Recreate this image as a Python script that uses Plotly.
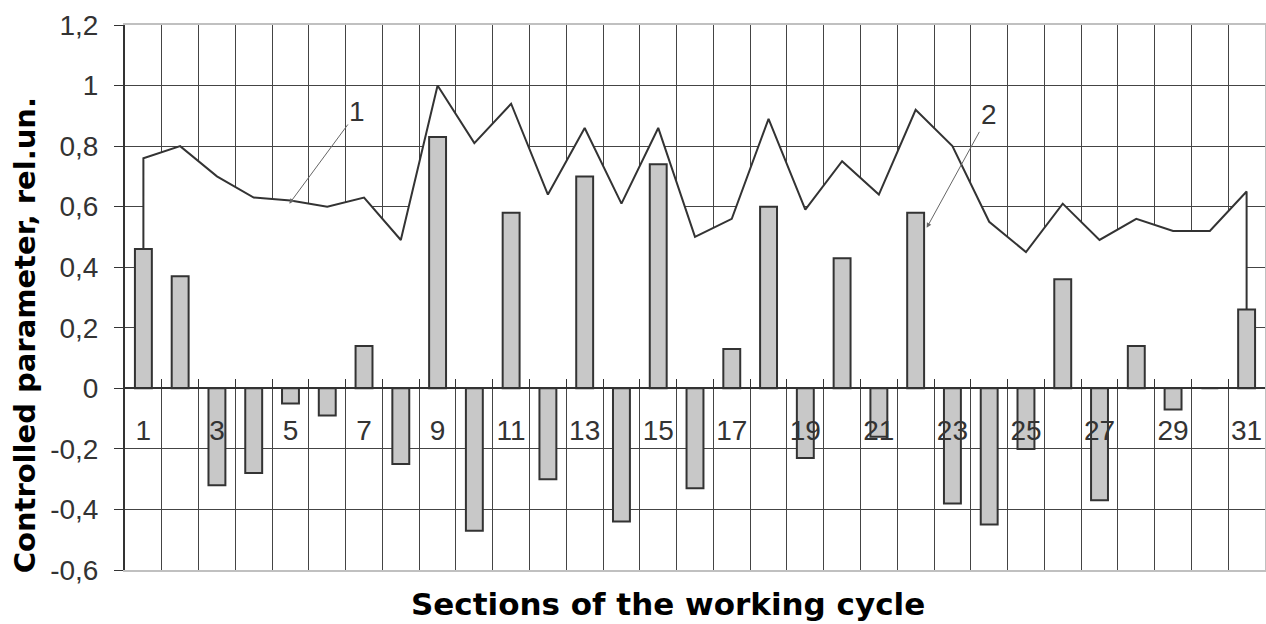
import plotly.graph_objects as go

# ---- data ----
sections = [str(i) for i in range(1, 32)]
section_labels = [s if int(s) % 2 == 1 else "" for s in sections]

# curve 1 (white-filled area outline)
curve_values = [0.76, 0.80, 0.70, 0.63, 0.62, 0.60, 0.63, 0.49, 1.00, 0.81,
                0.94, 0.64, 0.86, 0.61, 0.86, 0.50, 0.56, 0.89, 0.59, 0.75,
                0.64, 0.92, 0.80, 0.55, 0.45, 0.61, 0.49, 0.56, 0.52, 0.52,
                0.65]

# series 2 (bars)
bar_values = [0.46, 0.37, -0.32, -0.28, -0.05, -0.09, 0.14, -0.25, 0.83, -0.47,
              0.58, -0.30, 0.70, -0.44, 0.74, -0.33, 0.13, 0.60, -0.23, 0.43,
              -0.16, 0.58, -0.38, -0.45, -0.20, 0.36, -0.37, 0.14, -0.07, 0.0,
              0.26]

y_tick_vals = [-0.6, -0.4, -0.2, 0, 0.2, 0.4, 0.6, 0.8, 1.0, 1.2]
y_tick_text = ["-0,6", "-0,4", "-0,2", "0", "0,2", "0,4", "0,6", "0,8", "1", "1,2"]

x_title = "Sections of the working cycle"
y_title = "Controlled parameter, rel.un."

# ---- styling ----
DARK = "#333333"
GRID = "#444444"
BORDER = "#c0c0c0"
BAR_FILL = "#c8c8c8"
Y_RANGE = [-0.6, 1.2]
X_RANGE = [-0.5, len(sections) - 0.5]

area_x = [sections[0]] + sections + [sections[-1]]
area_y = [bar_values[0]] + curve_values + [bar_values[-1]]

fig = go.Figure()

fig.add_trace(go.Scatter(
    x=area_x, y=area_y, mode="lines",
    line=dict(color=DARK, width=2),
    fill="tozeroy", fillcolor="white",
    xaxis="x", yaxis="y", showlegend=False, hoverinfo="skip",
))

fig.add_trace(go.Bar(
    x=sections, y=bar_values, width=0.46,
    marker=dict(color=BAR_FILL, line=dict(color=DARK, width=2)),
    xaxis="x2", yaxis="y2", showlegend=False,
))

zero_pos = (0 - Y_RANGE[0]) / (Y_RANGE[1] - Y_RANGE[0])

fig.update_layout(
    width=1266, height=624,
    margin=dict(l=125, r=1, t=25, b=54, autoexpand=False),
    paper_bgcolor="white", plot_bgcolor="white",
    font=dict(family="Liberation Sans, Arial, sans-serif", color=DARK),
    xaxis=dict(
        type="category", categoryorder="array", categoryarray=sections,
        range=X_RANGE, tickson="boundaries", automargin=False,
        showgrid=True, gridcolor=GRID, gridwidth=1,
        showticklabels=False, ticks="",
        showline=True, linecolor=BORDER, linewidth=2, mirror=True,
        zeroline=False,
    ),
    yaxis=dict(
        range=Y_RANGE, tickvals=y_tick_vals, ticktext=y_tick_text,
        ticks="outside", ticklen=9, tickcolor=DARK, tickwidth=1,
        tickfont=dict(size=28, color=DARK), ticklabelstandoff=10,
        showgrid=True, gridcolor=GRID, gridwidth=1, automargin=False,
        showline=True, linecolor=DARK, linewidth=2,
        zeroline=False,
    ),
    xaxis2=dict(
        type="category", categoryorder="array", categoryarray=sections,
        range=X_RANGE, overlaying="x", anchor="free", position=zero_pos,
        tickson="boundaries", tickvals=sections, ticktext=section_labels,
        ticks="inside", ticklen=8, tickcolor=DARK, tickwidth=1,
        tickangle=0, automargin=False,
        tickfont=dict(size=28, color=DARK), ticklabelstandoff=17,
        showgrid=False, zeroline=False,
        showline=True, linecolor=DARK, linewidth=2,
    ),
    yaxis2=dict(
        range=Y_RANGE, overlaying="y", side="right", automargin=False,
        showgrid=False, zeroline=False, showticklabels=False, ticks="",
        showline=True, linecolor=BORDER, linewidth=2,
    ),
    annotations=[
        dict(text="<b>" + y_title + "</b>", xref="paper", yref="paper",
             x=-0.088, y=0.43, xanchor="center", yanchor="middle",
             textangle=-90, showarrow=False,
             font=dict(family="DejaVu Sans", size=29, color="black")),
        dict(text="<b>" + x_title + "</b>", xref="paper", yref="paper",
             x=0.476, y=-0.0624, xanchor="center", yanchor="middle",
             showarrow=False,
             font=dict(family="DejaVu Sans", size=31, color="black")),
        dict(text="1", xref="x", yref="y", x=3.97, y=0.61,
             ax=68, ay=-92, showarrow=True, arrowhead=2, arrowsize=1,
             arrowwidth=1, arrowcolor="#666666",
             font=dict(size=28, color=DARK)),
        dict(text="2", xref="x", yref="y", x=21.3, y=0.53,
             ax=62, ay=-113, showarrow=True, arrowhead=2, arrowsize=1,
             arrowwidth=1, arrowcolor="#666666",
             font=dict(size=28, color=DARK)),
    ],
)

fig.write_html("out.html",
               config={"displayModeBar": False},
               post_script="document.body.style.margin='0';")
